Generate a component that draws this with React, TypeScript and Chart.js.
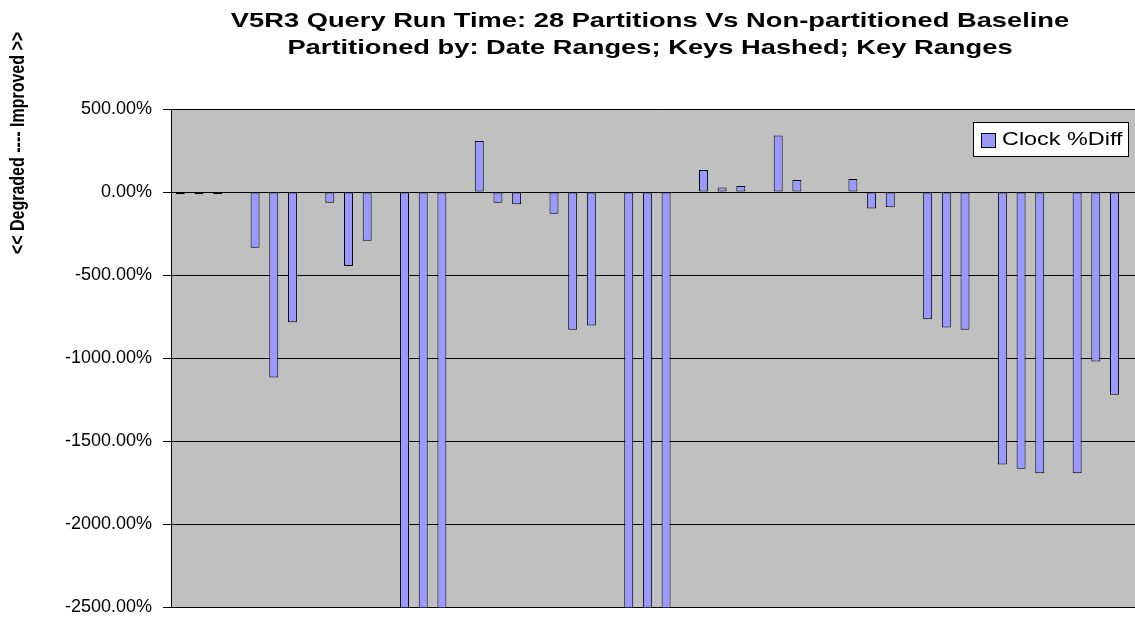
import { useEffect, useRef } from 'react';
import { Chart, registerables } from 'chart.js';

Chart.register(...registerables);

const TITLE_LINES = [
  'V5R3 Query Run Time: 28 Partitions Vs Non-partitioned Baseline',
  'Partitioned by: Date Ranges; Keys Hashed; Key Ranges',
];
const Y_TITLE = '<< Degraded ---- Improved >>';
const SERIES_NAME = 'Clock %Diff';

const queryGroups = ['Q1', 'Q2', 'Q3', 'Q4', 'Q5', 'Q6', 'Q7', 'Q8', 'Q9', 'Q10', 'Q11', 'Q12', 'Q13'];
const partitionRuns = ['Date Ranges', 'Keys Hashed', 'Key Ranges'];

// three values per query group, in partitionRuns order
const clockDiff: (number | null)[] = [
  -14, -14, -14,
  -336, -1117, -784,
  -65, -445, -294,
  -2600, -2600, -2600,
  307, -65, -74,
  -131, -830, -804,
  -2600, -2600, -2600,
  133, 27, 36,
  341, 73, null,
  79, -99, -91,
  -766, -816, -830,
  -1641, -1667, -1693,
  -1693, -1020, -1220,
];

const Y_MIN = -2500;
const Y_MAX = 500;
const Y_STEP = 500;

const FONT = '"Liberation Sans", Arial, sans-serif';
const STRETCH = 1.3;

export default function App() {
  const ref = useRef<HTMLCanvasElement | null>(null);

  useEffect(() => {
    if (!ref.current) return;
    const labels: string[] = [];
    const data: (number | null)[] = [];
    queryGroups.forEach((g, gi) => {
      partitionRuns.forEach((r, ri) => {
        labels.push(g + ' ' + r);
        data.push(clockDiff[gi * 3 + ri]);
      });
      labels.push('');
      data.push(null);
    });

    const decor = {
      id: 'decor',
      beforeDraw(chart: any) {
        const { ctx, chartArea } = chart;
        ctx.save();
        ctx.fillStyle = '#C0C0C0';
        ctx.fillRect(chartArea.left, chartArea.top, chartArea.right - chartArea.left, chartArea.bottom - chartArea.top);
        ctx.restore();
      },
      afterDraw(chart: any) {
        const { ctx } = chart;
        ctx.save();
        ctx.fillStyle = '#000';
        ctx.textAlign = 'center';
        ctx.textBaseline = 'middle';

        ctx.save();
        ctx.translate(650, 0);
        ctx.scale(STRETCH, 1);
        ctx.font = 'bold 21px ' + FONT;
        ctx.fillText(TITLE_LINES[0], 0, 21);
        ctx.fillText(TITLE_LINES[1], 0, 48);
        ctx.restore();

        ctx.save();
        ctx.translate(18, 143);
        ctx.rotate(-Math.PI / 2);
        ctx.scale(1, STRETCH);
        ctx.font = 'bold 16px ' + FONT;
        ctx.fillText(Y_TITLE, 0, 0);
        ctx.restore();

        // legend
        ctx.fillStyle = '#FFFFFF';
        ctx.fillRect(973.5, 122.5, 155, 34);
        ctx.strokeStyle = '#000';
        ctx.lineWidth = 1;
        ctx.strokeRect(973.5, 122.5, 155, 34);
        ctx.fillStyle = '#9999FF';
        ctx.fillRect(981.5, 133.5, 14, 14);
        ctx.strokeRect(981.5, 133.5, 14, 14);
        ctx.fillStyle = '#000';
        ctx.textAlign = 'left';
        ctx.save();
        ctx.translate(1002, 140);
        ctx.scale(STRETCH, 1);
        ctx.font = '18px ' + FONT;
        ctx.fillText(SERIES_NAME, 0, 0);
        ctx.restore();
        ctx.restore();
      },
    };

    const chart = new Chart(ref.current, {
      type: 'bar',
      data: {
        labels,
        datasets: [
          {
            label: SERIES_NAME,
            data,
            backgroundColor: '#9999FF',
            borderColor: '#000000',
            borderWidth: 1,
            borderSkipped: false,
            barPercentage: 0.48,
            categoryPercentage: 1,
          },
        ],
      },
      options: {
        animation: false,
        responsive: false,
        devicePixelRatio: 1,
        layout: { padding: { left: 0, top: 109, right: 17.5, bottom: 16 } },
        plugins: {
          legend: { display: false },
          title: { display: false },
          tooltip: { enabled: false },
        },
        scales: {
          x: { display: false, grid: { display: false } },
          y: {
            min: Y_MIN,
            max: Y_MAX,
            afterFit: (scale: any) => {
              scale.width = 171;
            },
            ticks: {
              stepSize: Y_STEP,
              color: '#000',
              padding: 11,
              font: { family: FONT, size: 18 },
              callback: (v: any) => Number(v).toFixed(2) + '%',
            },
            grid: { color: '#000', lineWidth: 1, tickLength: 8, tickColor: '#000' },
            border: { display: true, color: '#000', width: 1 },
          },
        },
      },
      plugins: [decor],
    });
    return () => chart.destroy();
  }, []);

  return (
    <div style={{ position: 'fixed', left: 0, top: 0, width: 1160, height: 629, background: '#fff' }}>
      <canvas ref={ref} width={1160} height={629} style={{ display: 'block' }} />
    </div>
  );
}
